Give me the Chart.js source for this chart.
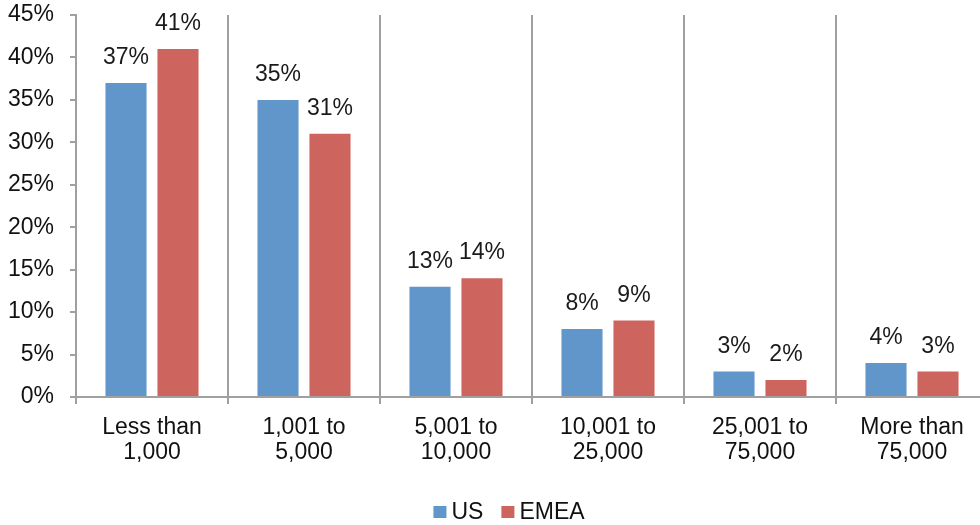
<!DOCTYPE html>
<html>
<head>
<meta charset="utf-8">
<script src="https://cdn.jsdelivr.net/npm/chart.js@4.4.1/dist/chart.umd.min.js"></script>
<style>
  html, body { margin: 0; padding: 0; background: #fff; overflow: hidden; }
  #wrap { width: 990px; height: 525px; }
</style>
</head>
<body>
<div id="wrap"><canvas id="chart"></canvas></div>
<script>
const categories = [
  ["Less than", "1,000"],
  ["1,001 to", "5,000"],
  ["5,001 to", "10,000"],
  ["10,001 to", "25,000"],
  ["25,001 to", "75,000"],
  ["More than", "75,000"],
];
const usValues = [37, 35, 13, 8, 3, 4];
const emeaValues = [41, 31, 14, 9, 2, 3];
const yTicks = [0, 5, 10, 15, 20, 25, 30, 35, 40, 45];

const FONT = "'Liberation Sans', Arial, sans-serif";

// value labels above bars
const barLabels = {
  id: "barLabels",
  afterDatasetsDraw(chart) {
    const ctx = chart.ctx;
    ctx.save();
    ctx.font = "23px " + FONT;
    ctx.fillStyle = "#1a1a1a";
    ctx.textAlign = "center";
    ctx.textBaseline = "alphabetic";
    chart.data.datasets.forEach((ds, i) => {
      chart.getDatasetMeta(i).data.forEach((bar, j) => {
        ctx.fillText(ds.data[j] + "%", bar.x, bar.y - 19);
      });
    });
    ctx.restore();
  },
};

// legend drawn under the axis, Excel style
const bottomLegend = {
  id: "bottomLegend",
  afterDraw(chart) {
    const ctx = chart.ctx;
    ctx.save();
    ctx.font = "23px " + FONT;
    ctx.textBaseline = "middle";
    ctx.textAlign = "left";
    const box = 13, textGap = 5, itemGap = 18;
    const items = chart.data.datasets.map(ds => ({
      label: ds.label,
      color: ds.backgroundColor,
      w: box + textGap + ctx.measureText(ds.label).width,
    }));
    const total = items.reduce((s, it) => s + it.w, 0) + itemGap * (items.length - 1);
    let x = 509 - total / 2;
    const y = 512;
    items.forEach(it => {
      ctx.fillStyle = it.color;
      ctx.fillRect(x, y - 6, box, 12);
      ctx.fillStyle = "#111";
      ctx.fillText(it.label, x + box + textGap, y + 1);
      x += it.w + itemGap;
    });
    ctx.restore();
  },
};

const ctx = document.getElementById("chart").getContext("2d");
new Chart(ctx, {
  type: "bar",
  data: {
    labels: categories,
    datasets: [
      {
        label: "US",
        data: usValues,
        backgroundColor: "#6096ca",
        categoryPercentage: 0.684,
        barPercentage: 0.79,
      },
      {
        label: "EMEA",
        data: emeaValues,
        backgroundColor: "#cd645e",
        categoryPercentage: 0.684,
        barPercentage: 0.79,
      },
    ],
  },
  options: {
    responsive: true,
    maintainAspectRatio: false,
    animation: false,
    layout: { padding: { top: 15, right: 2, left: 0, bottom: 44 } },
    plugins: {
      legend: { display: false },
      tooltip: { enabled: false },
    },
    scales: {
      x: {
        grid: {
          offset: true,
          color: "#a0a0a0",
          lineWidth: 2,
          tickLength: 7,
        },
        border: { color: "#a0a0a0", width: 2 },
        ticks: {
          font: { family: FONT, size: 23, lineHeight: 1.1 },
          color: "#111",
          padding: 11,
          maxRotation: 0,
        },
        afterFit(scale) {
          scale.height = 84;
          scale.paddingLeft = 0;
          scale.paddingRight = 0;
        },
      },
      y: {
        min: 0,
        max: 45,
        afterBuildTicks(scale) { scale.ticks = yTicks.map(v => ({ value: v })); },
        grid: {
          drawOnChartArea: false,
          color: "#a0a0a0",
          lineWidth: 2,
          tickLength: 6,
        },
        border: { color: "#a0a0a0", width: 2 },
        ticks: {
          font: { family: FONT, size: 23 },
          color: "#111",
          padding: 16,
          callback: v => v + "%",
        },
        afterFit(scale) {
          scale.width = 76;
          scale.paddingTop = 0;
          scale.paddingBottom = 0;
        },
      },
    },
  },
  plugins: [barLabels, bottomLegend],
});
</script>
</body>
</html>
